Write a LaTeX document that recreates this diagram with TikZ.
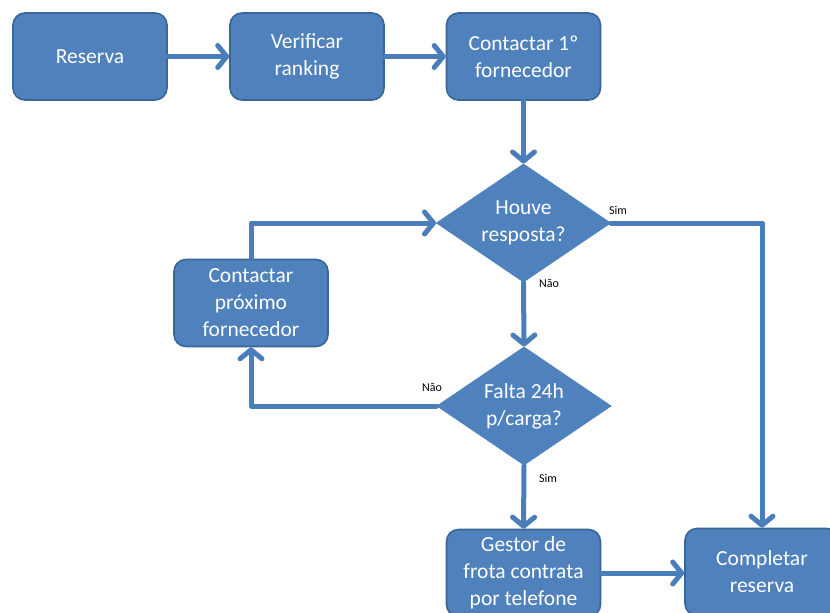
\documentclass[tikz,border=0pt]{standalone}
\usepackage{fontspec}
\setmainfont{Carlito}
\usetikzlibrary{shapes.geometric,arrows.meta}
\definecolor{boxfill}{HTML}{4F81BD}
\definecolor{boxline}{HTML}{3A6596}
\definecolor{flow}{HTML}{4A7EBB}
\tikzset{
  stepbox/.style={draw=boxline, line width=1.6pt, fill=boxfill, rounded corners=12pt,
    minimum width=154pt, minimum height=87pt, text=white, align=center,
    font=\fontsize{21.5}{27}\selectfont, inner sep=2pt},
  decision/.style={diamond, shape aspect=1.48, draw=boxfill, line width=1pt, fill=boxfill,
    minimum width=174pt, minimum height=118pt, inner sep=0pt, text=white, align=center,
    font=\fontsize{21.5}{27}\selectfont},
  flowline/.style={draw=flow, line width=5pt, line join=round, line cap=round,
    -{Straight Barb[length=9pt, width=22pt, line width=5pt, round]}},
  tag/.style={font=\fontsize{12}{14}\selectfont, text=black, inner sep=1pt}
}
\begin{document}
\begin{tikzpicture}[x=1pt, y=-1pt]
\useasboundingbox (0,0) rectangle (830,613);
\fill[white] (0,0) rectangle (830,613);

\node[stepbox] (res) at (90,56.5) {Reserva};
\node[stepbox] (ver) at (307,56.5) {Verificar\\ranking};
\node[stepbox] (c1) at (523.5,56.5) {Contactar 1º\\fornecedor};
\node[decision] (d1) at (523.5,223) {Houve\\resposta?};
\node[stepbox] (cp) at (251,303) {Contactar\\próximo\\fornecedor};
\node[decision] (d2) at (524,406) {Falta 24h\\p/carga?};
\node[stepbox] (ges) at (523.5,573) {Gestor de\\frota contrata\\por telefone};
\node[stepbox] (comp) at (762,572) {Completar\\reserva};

\coordinate (simturn) at (762,223);
\coordinate (naoturn) at (251,406);
\coordinate (backturn) at (251,223);

\draw[flowline] (res.east) -- (ver.west);
\draw[flowline] (ver.east) -- (c1.west);
\draw[flowline] (c1.south) -- (d1.north);
\draw[flowline] (d1.east) -- (simturn) -- (comp.north);
\draw[flowline] (d1.south) -- (d2.north);
\draw[flowline] (d2.west) -- (naoturn) -- (cp.south);
\draw[flowline] (cp.north) -- (backturn) -- (d1.west);
\draw[flowline] (d2.south) -- (ges.north);
\draw[flowline] (ges.east |- 0,573) -- (comp.west |- 0,573);

\node[tag, anchor=west] (lsim1) at (608,210) {Sim};
\node[tag, anchor=west] (lnao1) at (538,284) {Não};
\node[tag] (lnao2) at (432,388) {Não};
\node[tag, anchor=west] (lsim2) at (538,478) {Sim};
\end{tikzpicture}
\end{document}
